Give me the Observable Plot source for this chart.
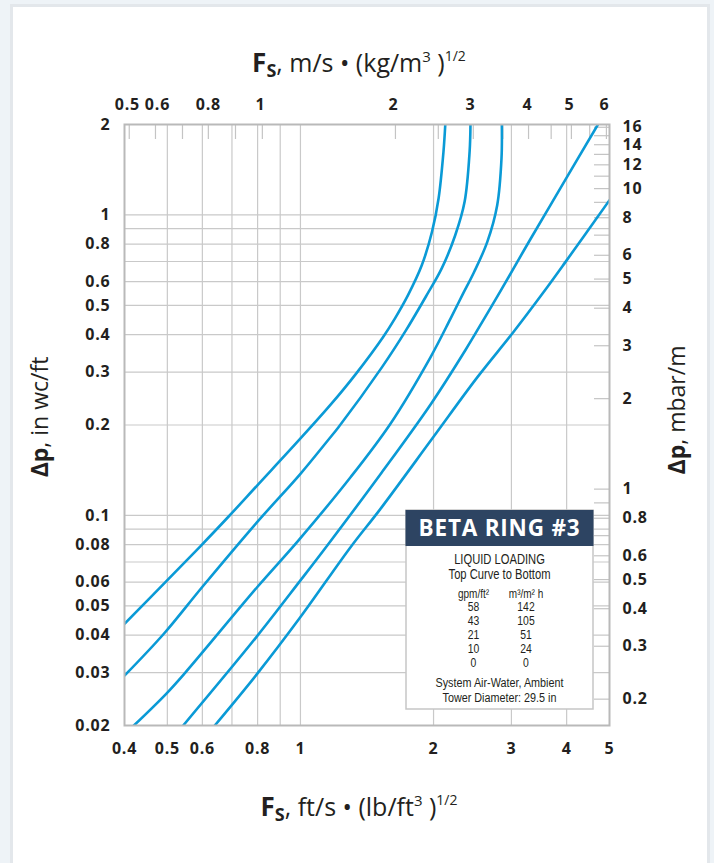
<!DOCTYPE html>
<html>
<head>
<meta charset="utf-8">
<script src="https://cdn.jsdelivr.net/npm/d3@7"></script>
<script src="https://cdn.jsdelivr.net/npm/@observablehq/plot@0.6"></script>
<style>
  html, body { margin: 0; padding: 0; background: #eef3f7; }
  #card { position: absolute; left: 10px; top: 4px; width: 694px; height: 900px; background: #fff; border: 3px solid #e3e7eb; }
  #chart { position: absolute; left: 0; top: 0; }
</style>
</head>
<body>
<div id="card"></div>
<div id="chart"></div>
<script>
// Liquid loadings, top curve to bottom
const loadsGpm = [58, 43, 21, 10, 0];
const loadsM3 = [142, 105, 51, 24, 0];

// Gas capacity factor Fs [ft/s·(lb/ft³)^½] and pressure drop [in wc/ft] along each curve
const fs58 = [0.40, 0.495, 0.593, 0.688, 0.799, 0.992, 1.174, 1.335, 1.537, 1.635, 1.751, 1.881, 1.984, 2.053, 2.106, 2.126];
const dp58 = [0.0436, 0.060, 0.0788, 0.0992, 0.126, 0.178, 0.235, 0.296, 0.392, 0.452, 0.541, 0.68, 0.879, 1.134, 1.622, 2.0];

const fs43 = [0.40, 0.491, 0.599, 0.798, 1.0, 1.153, 1.219, 1.528, 1.732, 1.930, 2.087, 2.239, 2.351, 2.413, 2.424];
const dp43 = [0.0293, 0.0404, 0.0577, 0.095, 0.1376, 0.1776, 0.1966, 0.311, 0.413, 0.541, 0.664, 0.856, 1.106, 1.622, 2.0];

const fs21 = [0.42, 0.497, 0.549, 0.798, 0.989, 1.298, 1.598, 1.968, 2.185, 2.323, 2.472, 2.646, 2.786, 2.849, 2.854];
const dp21 = [0.02, 0.0255, 0.030, 0.0577, 0.0825, 0.134, 0.202, 0.336, 0.452, 0.541, 0.647, 0.814, 1.078, 1.541, 2.0];

const fs10 = [0.543, 0.794, 1.0, 1.142, 1.527, 1.973, 2.358, 2.604, 2.840, 3.319, 3.990, 4.708];
const dp10 = [0.02, 0.0393, 0.0608, 0.0784, 0.139, 0.235, 0.354, 0.452, 0.561, 0.835, 1.323, 2.0];

const fs0 = [0.64, 0.798, 1.0, 1.298, 1.517, 1.996, 2.511, 3.029, 3.552, 3.977, 5.0];
const dp0 = [0.02, 0.0297, 0.0459, 0.0784, 0.1052, 0.182, 0.288, 0.407, 0.555, 0.698, 1.12];

// Bottom axis (ft/s·(lb/ft³)^½)
const bottomTicks = [0.4, 0.5, 0.6, 0.8, 1, 2, 3, 4, 5];
const gridFs = [0.5, 0.6, 0.7, 0.8, 0.9, 1, 2, 3, 4];

// Top axis (m/s·(kg/m³)^½): tick values and labels, with where each sits on the Fs scale
const topTicks = [0.5, 0.6, 0.7, 0.8, 0.9, 1, 2, 2.5, 3, 3.5, 4, 4.5, 5, 5.5, 6];
const topTicksAtFs = [0.41, 0.47, 0.541, 0.619, 0.713, 0.82, 1.64, 2.05, 2.46, 2.87, 3.28, 3.69, 4.10, 4.51, 4.92];
const topLabels = [0.5, 0.6, 0.8, 1, 2, 3, 4, 5, 6];
const topLabelsAtFs = [0.406, 0.475, 0.619, 0.812, 1.623, 2.423, 3.262, 4.06, 4.87];

// Left axis (in wc/ft)
const leftTicks = [2, 1, 0.8, 0.6, 0.5, 0.4, 0.3, 0.2, 0.1, 0.08, 0.06, 0.05, 0.04, 0.03, 0.02];
const gridDp = [1, 0.9, 0.8, 0.7, 0.6, 0.5, 0.4, 0.3, 0.2, 0.1, 0.09, 0.08, 0.07, 0.06, 0.05, 0.04, 0.03];

// Right axis (mbar/m)
const rightLabels = [16, 14, 12, 10, 8, 6, 5, 4, 3, 2, 1, 0.8, 0.6, 0.5, 0.4, 0.3, 0.2];
const rightMinor = [16, 15, 14, 13, 12, 11, 10, 9, 8, 7, 6, 5, 4, 3, 2, 1, 0.9, 0.8, 0.7, 0.6, 0.5, 0.4, 0.3, 0.2];
const SI_DP = 2.4909 / 0.3048;  // mbar/m per in wc/ft

const curves = [[fs58, dp58], [fs43, dp43], [fs21, dp21], [fs10, dp10], [fs0, dp0]];
const rows = curves.flatMap(([xs, ys], i) => xs.map((fs, j) => ({gpm: loadsGpm[i], fs, dp: ys[j]})));

const fmt = d => String(+(+d).toPrecision(3));
const W = 714, H = 863;
const mt = 124, ml = 124, mr = 105, mb = 138;
const fw = W - ml - mr, fh = H - mt - mb;
const tickLen = 15;
const ink = "#231f20";
const blue = "#0a9ad6";
const lab = {fontFamily: "'Open Sans', sans-serif", fontSize: 16, fontWeight: 700, fill: ink};

const chart = Plot.plot({
  width: W, height: H,
  marginTop: mt, marginLeft: ml, marginRight: mr, marginBottom: mb,
  style: {background: "transparent", fontFamily: "'Open Sans', sans-serif", color: ink},
  x: {type: "log", domain: [0.4, 5], axis: null},
  y: {type: "log", domain: [0.02, 2], axis: null},
  marks: [
    Plot.gridX(gridFs, {stroke: "#c9c9c9", strokeOpacity: 1, strokeWidth: 1.2}),
    Plot.gridY(gridDp, {stroke: "#c9c9c9", strokeOpacity: 1, strokeWidth: 1.2}),
    Plot.tickX(topTicksAtFs, {x: d => d, insetBottom: fh - tickLen, stroke: "#c4c4c4", strokeWidth: 1.2}),
    Plot.tickY(rightMinor, {y: d => d / SI_DP, insetLeft: fw - tickLen, stroke: "#c4c4c4", strokeWidth: 1.2}),
    Plot.line(rows, {x: "fs", y: "dp", z: "gpm", stroke: blue, strokeWidth: 2.6, curve: "catmull-rom", clip: true}),
    // tick labels: bottom/left in US units, top/right in SI units
    Plot.text(bottomTicks, {x: d => d, text: fmt, frameAnchor: "bottom", lineAnchor: "middle", dy: 23, ...lab}),
    Plot.text(topLabels, {x: (t, i) => topLabelsAtFs[i], text: fmt, frameAnchor: "top", lineAnchor: "middle", dy: -20, ...lab}),
    Plot.text(leftTicks, {y: d => d, text: fmt, frameAnchor: "left", textAnchor: "end", dx: -14, ...lab}),
    Plot.text(rightLabels, {y: r => r / SI_DP, text: fmt, frameAnchor: "right", textAnchor: "start", dx: 13, ...lab}),
    Plot.frame({stroke: "#b9b9b9", strokeWidth: 2})
  ]
});
document.getElementById("chart").appendChild(chart);

const svg = d3.select(chart);
// wide-set numerals for the tick labels
svg.selectAll('g[aria-label="text"] text').attr("letter-spacing", 0.8);

// Axis titles
function titleText(g, parts) {
  parts.forEach(p => {
    const t = g.append("tspan").text(p.t);
    if (p.size) t.attr("font-size", p.size);
    if (p.weight) t.attr("font-weight", p.weight);
    if (p.dy) t.attr("dy", p.dy);
  });
}
const titles = svg.append("g")
  .attr("font-family", "'Open Sans', sans-serif")
  .attr("font-weight", 400)
  .attr("fill", ink);

titleText(titles.append("text").attr("x", 359).attr("y", 72).attr("text-anchor", "middle").attr("font-size", 25), [
  {t: "F", weight: 700, size: 26},
  {t: "S", weight: 700, size: 18, dy: 5},
  {t: ", m/s • (kg/m", dy: -5},
  {t: "3", size: 15, dy: -10},
  {t: " )", dy: 10},
  {t: "1/2", size: 14, dy: -11}
]);
titleText(titles.append("text").attr("x", 359).attr("y", 816).attr("text-anchor", "middle").attr("font-size", 25), [
  {t: "F", weight: 700, size: 26},
  {t: "S", weight: 700, size: 18, dy: 5},
  {t: ", ft/s • (lb/ft", dy: -5},
  {t: "3", size: 15, dy: -10},
  {t: " )", dy: 10},
  {t: "1/2", size: 14, dy: -11}
]);
titleText(titles.append("text").attr("transform", "translate(48,417) rotate(-90)").attr("text-anchor", "middle").attr("font-size", 23), [
  {t: "Δp", weight: 700},
  {t: ", in wc/ft"}
]);
titleText(titles.append("text").attr("transform", "translate(685,410) rotate(-90)").attr("text-anchor", "middle").attr("font-size", 23), [
  {t: "Δp", weight: 700},
  {t: ", mbar/m"}
]);

// Legend box
const lg = svg.append("g");
lg.append("rect").attr("x", 406).attr("y", 510).attr("width", 187).attr("height", 199)
  .attr("fill", "#fff").attr("stroke", "#c6c6c6").attr("stroke-width", 1.5);
lg.append("rect").attr("x", 405.5).attr("y", 510).attr("width", 188).attr("height", 36).attr("fill", "#2d4462");
lg.append("text").attr("x", 499.5).attr("y", 536).attr("text-anchor", "middle")
  .attr("font-family", "'Open Sans', sans-serif").attr("font-weight", 700).attr("font-size", 22.5)
  .attr("letter-spacing", 0.8).attr("fill", "#fff").text("BETA RING #3");

// condensed sans for the legend body
const narrow = lg.append("g")
  .attr("font-family", "'Liberation Sans', Arial, sans-serif")
  .attr("font-weight", 400).attr("fill", ink).attr("text-anchor", "middle");
const line = (x, y, s, size) => narrow.append("text")
  .attr("transform", `translate(${x},${y}) scale(0.8,1)`)
  .attr("font-size", size).text(s);
line(499.5, 564, "LIQUID LOADING", 14);
line(499.5, 579, "Top Curve to Bottom", 14);
line(473.5, 598, "gpm/ft²", 12.5);
line(526, 598, "m³/m² h", 12.5);
loadsGpm.forEach((g, i) => {
  const y = 611 + i * 14;
  line(473.5, y, String(g), 13);
  line(526, y, String(loadsM3[i]), 13);
});
line(499.5, 687, "System Air-Water, Ambient", 13.5);
line(499.5, 701.5, "Tower Diameter: 29.5 in", 13.5);
</script>
</body>
</html>
